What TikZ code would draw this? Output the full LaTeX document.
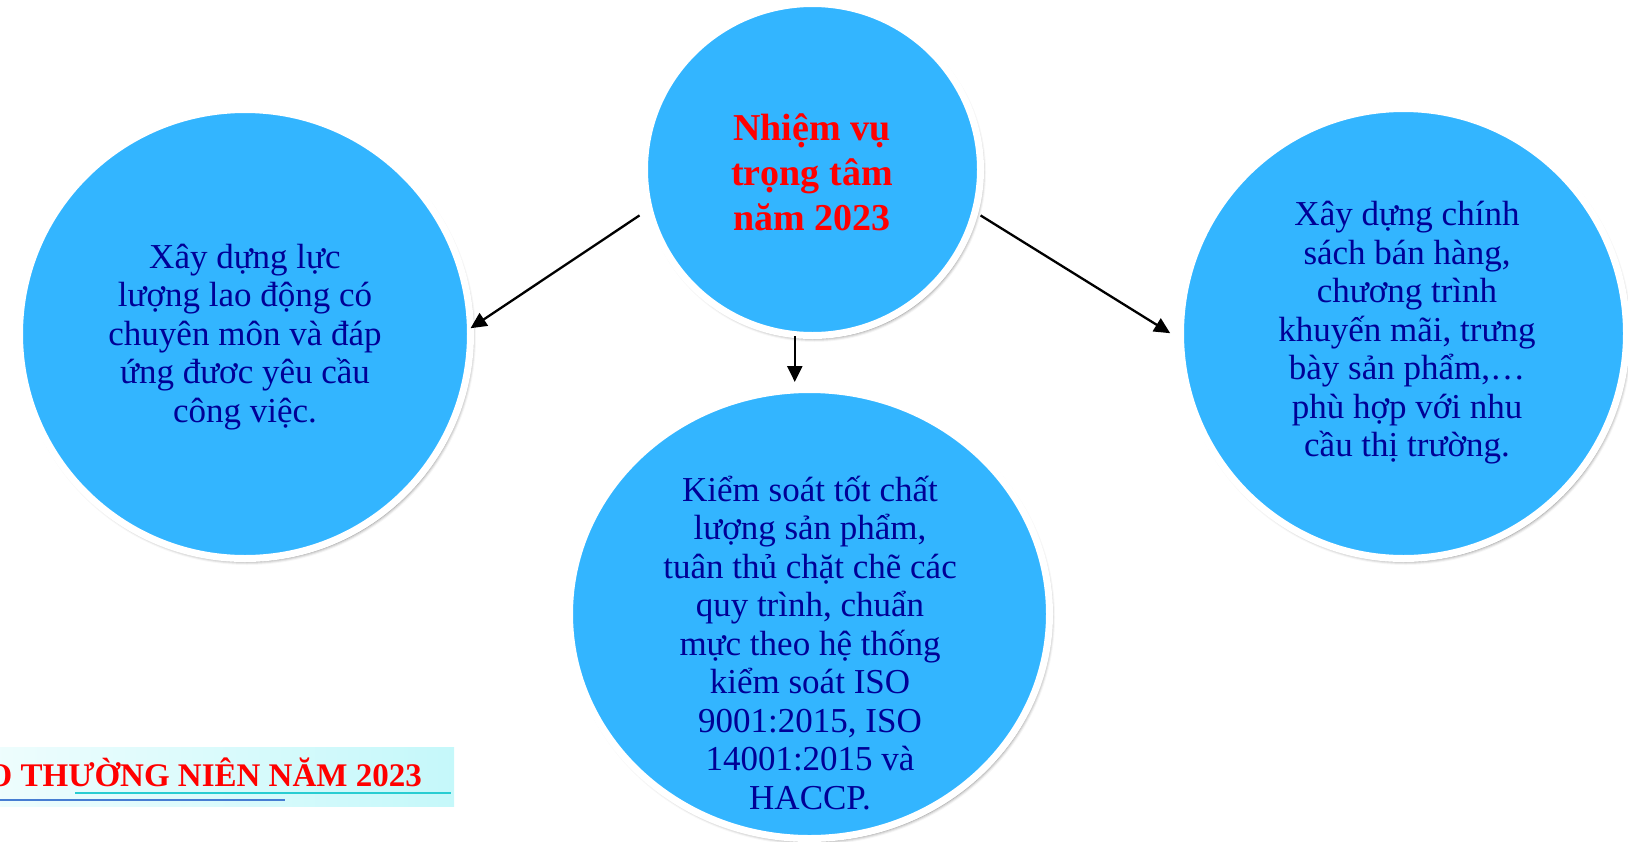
\documentclass[tikz,border=0pt]{standalone}
\usepackage{fontspec}
\setmainfont{Liberation Serif}
\usetikzlibrary{shapes.geometric,arrows.meta,shadows.blur}
\definecolor{bub}{RGB}{51,181,255}
\definecolor{navy}{RGB}{0,0,150}
\definecolor{titlered}{RGB}{255,0,0}
\definecolor{bannerc}{RGB}{197,248,250}
\definecolor{linecyan}{RGB}{40,205,210}
\definecolor{lineblue}{RGB}{70,125,210}
\tikzset{
  bubble/.style={ellipse, draw=white, line width=7pt, fill=bub, inner sep=0pt,
    blur shadow={shadow xshift=2pt, shadow yshift=-3pt, shadow blur radius=3.5pt, shadow opacity=55}},
  bodytext/.style={align=center, text=navy, inner sep=0pt, font=\fontsize{35}{38.5}\selectfont},
  titletext/.style={align=center, text=titlered, inner sep=0pt, font=\bfseries\fontsize{38}{45}\selectfont},
  arr/.style={line width=2.3pt, -{Triangle[length=16pt,width=15pt]}}
}
\begin{document}
\begin{tikzpicture}[x=1pt,y=-1pt]
\useasboundingbox (0,0) rectangle (1628,841);
\clip (0,0) rectangle (1628,841);
% bubbles
\node[bubble, minimum width=336pt, minimum height=332pt] (top) at (812.5,169.5) {};
\node[bubble, minimum width=451pt, minimum height=449pt] (left) at (245,334) {};
\node[bubble, minimum width=446pt, minimum height=450pt] (right) at (1403.5,333.5) {};
\node[bubble, minimum width=480pt, minimum height=449pt] (bottom) at (809.5,614) {};
% texts
\node[titletext] (ttop) at (812,172) {Nhiệm vụ\\trọng tâm\\năm 2023};
\node[bodytext] (tleft) at (245,337) {Xây dựng lực\\lượng lao động có\\chuyên môn và đáp\\ứng đươc yêu cầu\\công việc.};
\node[bodytext] (tright) at (1407,333) {Xây dựng chính\\sách bán hàng,\\chương trình\\khuyến mãi, trưng\\bày sản phẩm,…\\phù hợp với nhu\\cầu thị trường.};
\node[bodytext] (tbottom) at (810,643) {Kiểm soát tốt chất\\lượng sản phẩm,\\tuân thủ chặt chẽ các\\quy trình, chuẩn\\mực theo hệ thống\\kiểm soát ISO\\9001:2015, ISO\\14001:2015 và\\HACCP.};
% connectors
\draw[arr, shorten <=8pt, shorten >=-4pt] (top.194) -- (left.2);
\draw[arr, shorten <=3pt, shorten >=8pt] (top.345.5) -- (right.181.5);
\draw[arr, shorten <=-2pt, shorten >=4pt] (top.264.6) -- (top.264.6 |- bottom.north);
% banner
\shade[left color=white!70!bannerc, right color=bannerc] (0,747) rectangle (454,806);
\draw[linecyan, line width=2pt] (75,793) -- (451,793);
\draw[lineblue, line width=2.5pt] (0,800) -- (285,800);
\node[anchor=base east, inner sep=0pt, text=titlered, font=\bfseries\fontsize{33}{38}\selectfont] (banner) at (422,786) {O THƯỜNG NIÊN NĂM 2023};
\end{tikzpicture}
\end{document}
